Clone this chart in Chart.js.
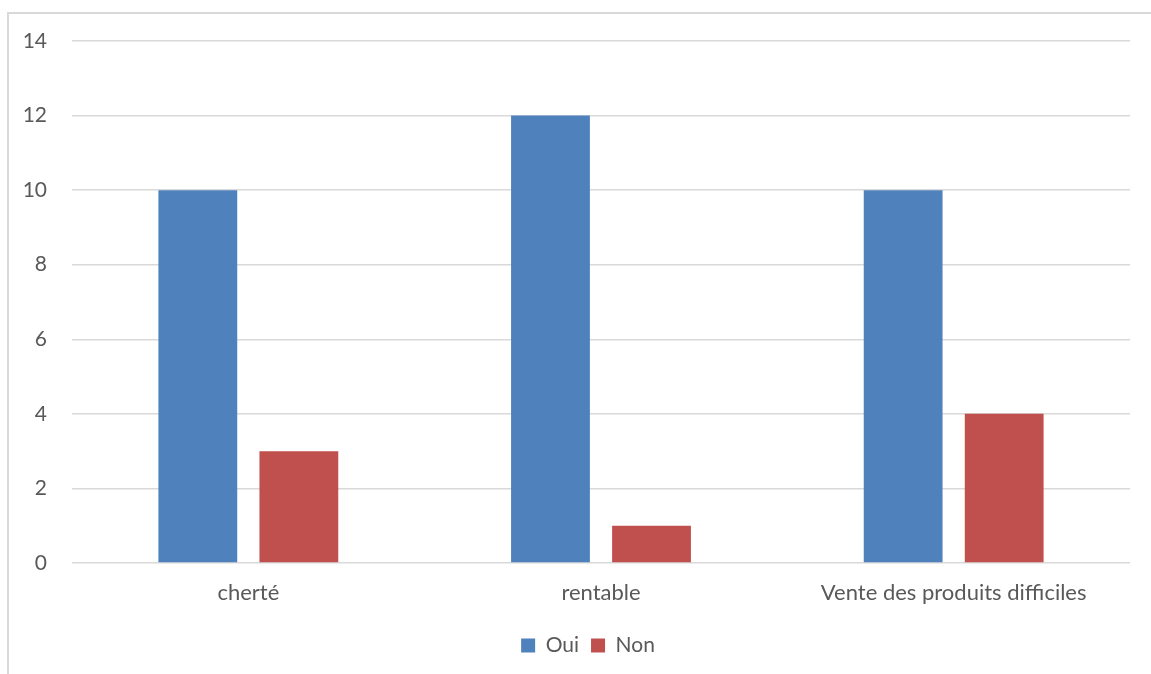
<!DOCTYPE html>
<html>
<head>
<meta charset="utf-8">
<script src="https://cdn.jsdelivr.net/npm/chart.js@4"></script>
<style>
  html, body { margin: 0; padding: 0; background: #fff; }
  #wrap { position: relative; width: 1151px; height: 674px; overflow: hidden; }
  #frame { position: absolute; left: 7px; top: 12px; width: 1200px; height: 700px;
           border-left: 2px solid #d9d9d9; border-top: 2px solid #d9d9d9; }
  canvas { position: absolute; left: 0; top: 0; }
</style>
</head>
<body>
<div id="wrap">
  <div id="frame"></div>
  <canvas id="chart" width="1151" height="674"></canvas>
</div>
<script>
var categories = ['cherté', 'rentable', 'Vente des produits difficiles'];
var oui = [10, 12, 10];
var non = [3, 1, 4];
var yTicks = [0, 2, 4, 6, 8, 10, 12, 14];

var font = "Lato, 'Liberation Sans', sans-serif";
var grey = '#595959';

// nudge the legend to the right, like the original
var legendShift = {
    id: 'legendShift',
    afterLayout: function (chart) {
        if (chart.legend) {
            chart.legend.left += 23;
            chart.legend.right += 23;
        }
    }
};

var ctx = document.getElementById('chart').getContext('2d');
var myChart = new Chart(ctx, {
    type: 'bar',
    data: {
        labels: categories,
        datasets: [{
            label: 'Oui',
            data: oui,
            backgroundColor: '#4F81BD',
            categoryPercentage: 0.573,
            barPercentage: 0.78
        }, {
            label: 'Non',
            data: non,
            backgroundColor: '#C0504D',
            categoryPercentage: 0.573,
            barPercentage: 0.78
        }]
    },
    options: {
        responsive: false,
        animation: false,
        layout: { padding: { top: 41, right: 21, bottom: 8, left: 0 } },
        plugins: {
            tooltip: { enabled: false },
            legend: {
                position: 'bottom',
                labels: {
                    boxWidth: 14,
                    boxHeight: 14,
                    padding: 12,
                    color: grey,
                    font: { family: font, size: 21 }
                }
            }
        },
        scales: {
            x: {
                afterFit: function (scale) { scale.height = 60; },
                grid: { display: false, drawTicks: false },
                border: { display: false },
                ticks: { color: grey, padding: 17, font: { family: font, size: 22 } }
            },
            y: {
                min: 0,
                max: 14,
                afterFit: function (scale) { scale.width = 72; },
                afterBuildTicks: function (scale) {
                    scale.ticks = yTicks.map(function (v) { return { value: v }; });
                },
                grid: { color: '#d9d9d9', lineWidth: 1.5, drawTicks: false },
                border: { display: false },
                ticks: { color: grey, padding: 25, font: { family: font, size: 21 } }
            }
        }
    },
    plugins: [legendShift]
});
</script>
</body>
</html>
